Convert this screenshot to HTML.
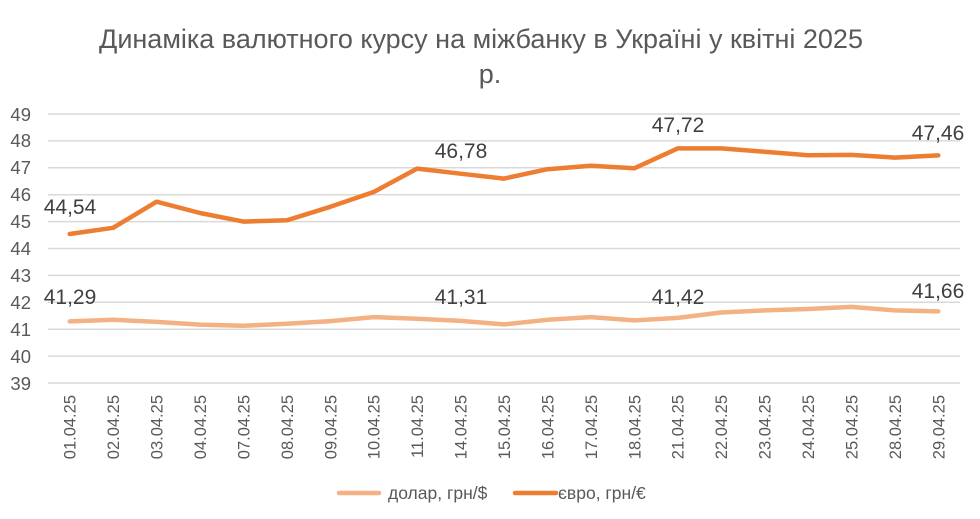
<!DOCTYPE html>
<html><head><meta charset="utf-8"><style>
html,body{margin:0;padding:0;background:#fff;}
svg{display:block;font-family:"Liberation Sans",sans-serif;}
</style></head><body>
<svg width="980" height="519" viewBox="0 0 980 519" xmlns="http://www.w3.org/2000/svg">
<rect width="980" height="519" fill="#fff"/>
<text x="481" y="48" font-size="27" fill="#595959" text-anchor="middle">Динаміка валютного курсу на міжбанку в Україні у квітні 2025</text>
<text x="490" y="83" font-size="27" fill="#595959" text-anchor="middle">р.</text>
<g stroke="#d9d9d9" stroke-width="1.5">
<line x1="48" x2="960" y1="383" y2="383"/><line x1="48" x2="960" y1="356.1" y2="356.1"/><line x1="48" x2="960" y1="329.2" y2="329.2"/><line x1="48" x2="960" y1="302.3" y2="302.3"/><line x1="48" x2="960" y1="275.4" y2="275.4"/><line x1="48" x2="960" y1="248.5" y2="248.5"/><line x1="48" x2="960" y1="221.6" y2="221.6"/><line x1="48" x2="960" y1="194.7" y2="194.7"/><line x1="48" x2="960" y1="167.8" y2="167.8"/><line x1="48" x2="960" y1="140.9" y2="140.9"/><line x1="48" x2="960" y1="114" y2="114"/>
</g>
<g font-size="18.5" fill="#595959" text-anchor="end">
<text x="31" y="390">39</text><text x="31" y="363">40</text><text x="31" y="336">41</text><text x="31" y="309">42</text><text x="31" y="282">43</text><text x="31" y="255">44</text><text x="31" y="228">45</text><text x="31" y="201">46</text><text x="31" y="174">47</text><text x="31" y="147">48</text><text x="31" y="121">49</text>
</g>
<g font-size="16.5" fill="#595959" text-anchor="end">
<text transform="translate(75.7,395) rotate(-90)">01.04.25</text>
<text transform="translate(119.1,395) rotate(-90)">02.04.25</text>
<text transform="translate(162.6,395) rotate(-90)">03.04.25</text>
<text transform="translate(206,395) rotate(-90)">04.04.25</text>
<text transform="translate(249.4,395) rotate(-90)">07.04.25</text>
<text transform="translate(292.9,395) rotate(-90)">08.04.25</text>
<text transform="translate(336.3,395) rotate(-90)">09.04.25</text>
<text transform="translate(379.7,395) rotate(-90)">10.04.25</text>
<text transform="translate(423.1,395) rotate(-90)">11.04.25</text>
<text transform="translate(466.6,395) rotate(-90)">14.04.25</text>
<text transform="translate(510,395) rotate(-90)">15.04.25</text>
<text transform="translate(553.4,395) rotate(-90)">16.04.25</text>
<text transform="translate(596.9,395) rotate(-90)">17.04.25</text>
<text transform="translate(640.3,395) rotate(-90)">18.04.25</text>
<text transform="translate(683.7,395) rotate(-90)">21.04.25</text>
<text transform="translate(727.1,395) rotate(-90)">22.04.25</text>
<text transform="translate(770.6,395) rotate(-90)">23.04.25</text>
<text transform="translate(814,395) rotate(-90)">24.04.25</text>
<text transform="translate(857.4,395) rotate(-90)">25.04.25</text>
<text transform="translate(900.9,395) rotate(-90)">28.04.25</text>
<text transform="translate(944.3,395) rotate(-90)">29.04.25</text>
</g>
<polyline fill="none" stroke="#F4B183" stroke-width="4.5" stroke-linejoin="round" stroke-linecap="round" points="69.7,321.4 113.1,319.8 156.6,321.9 200,324.6 243.4,325.7 286.9,323.8 330.3,321.1 373.7,317.1 417.1,318.7 460.6,320.9 504,324.4 547.4,319.8 590.9,317.1 634.3,320.4 677.7,317.9 721.1,312.5 764.6,310.4 808,309 851.4,306.9 894.9,310.4 938.3,311.4"/>
<polyline fill="none" stroke="#ED7D31" stroke-width="4.5" stroke-linejoin="round" stroke-linecap="round" points="69.7,234 113.1,227.8 156.6,201.7 200,213 243.4,221.6 286.9,220.3 330.3,206.8 373.7,192 417.1,168.6 460.6,173.7 504,178.6 547.4,169.2 590.9,165.7 634.3,168.3 677.7,148.4 721.1,148.4 764.6,151.7 808,155.2 851.4,154.9 894.9,157.6 938.3,155.4"/>
<g font-size="21" fill="#404040" text-anchor="middle">
<text x="70" y="214">44,54</text>
<text x="461" y="158">46,78</text>
<text x="678" y="132">47,72</text>
<text x="938" y="140">47,46</text>
<text x="70" y="304">41,29</text>
<text x="461" y="304">41,31</text>
<text x="678" y="304">41,42</text>
<text x="938" y="298">41,66</text>
</g>
<line x1="339" x2="379" y1="493" y2="493" stroke="#F4B183" stroke-width="4.5" stroke-linecap="round"/>
<text x="388" y="499" font-size="17.5" fill="#595959">долар, грн/$</text>
<line x1="515" x2="556" y1="493" y2="493" stroke="#ED7D31" stroke-width="4.5" stroke-linecap="round"/>
<text x="558" y="499" font-size="17.5" fill="#595959">євро, грн/€</text>
</svg>
</body></html>
